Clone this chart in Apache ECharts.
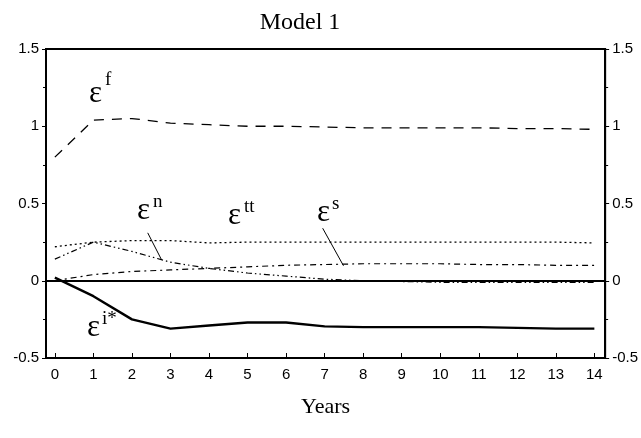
<!DOCTYPE html>
<html><head><meta charset="utf-8">
<script src="https://cdn.jsdelivr.net/npm/echarts@6/dist/echarts.min.js"></script>
<style>html,body{margin:0;padding:0;background:#fff}#c{width:641px;height:438px}</style>
</head><body><div id="c"></div>
<script>
const years = [0,1,2,3,4,5,6,7,8,9,10,11,12,13,14];
const epsF  = [0.80,1.04,1.05,1.02,1.01,1.00,1.00,0.995,0.99,0.99,0.99,0.99,0.985,0.985,0.98];
const epsTT = [0.22,0.25,0.26,0.26,0.245,0.25,0.25,0.25,0.25,0.25,0.25,0.25,0.25,0.25,0.245];
const epsN  = [0.14,0.25,0.19,0.12,0.08,0.05,0.03,0.01,0.0,-0.005,-0.01,-0.01,-0.01,-0.01,-0.01];
const epsS  = [0.0,0.04,0.06,0.07,0.08,0.09,0.10,0.105,0.11,0.11,0.11,0.105,0.105,0.10,0.10];
const epsI  = [0.02,-0.10,-0.25,-0.31,-0.29,-0.27,-0.27,-0.295,-0.30,-0.30,-0.30,-0.30,-0.305,-0.31,-0.31];
const yTicks = [-0.5,0,0.5,1,1.5];

const pairs = a => years.map((x,i)=>[x,a[i]]);
const chart = echarts.init(document.getElementById('c'));
const sans = 'Liberation Sans';
const serif = 'Liberation Serif';
const yAxisBase = {
  type:'value', min:-0.5, max:1.5, interval:0.5,
  axisLine:{show:true,onZero:false,lineStyle:{color:'#000',width:2}},
  axisTick:{show:true,inside:false,length:4,lineStyle:{color:'#000',width:1}},
  minorTick:{show:true,splitNumber:2,length:3,lineStyle:{color:'#000'}},
  splitLine:{show:false},
  axisLabel:{color:'#000',fontFamily:sans,fontSize:15,margin:7,
    formatter:v=>yTicks.includes(+v.toFixed(2))?String(+v.toFixed(2)):''}
};
const line = (name,data,opt)=>Object.assign({
  type:'line',name,data:pairs(data),symbol:'none',silent:true,
  lineStyle:{color:'#000',width:1.2}
},opt);
const eps = '31px "Liberation Serif"';
const sup = '19px "Liberation Serif"';
chart.setOption({
  animation:false,
  grid:{left:46,right:35,top:49,bottom:80,show:true,borderColor:'#000',borderWidth:2},
  title:{text:'Model 1',left:295,top:6,textAlign:'center',
    textStyle:{fontFamily:serif,fontWeight:'normal',fontSize:24,color:'#000'}},
  xAxis:{type:'value',min:-0.23,max:14.28,name:'Years',nameLocation:'middle',nameGap:38,
    nameTextStyle:{fontFamily:serif,fontSize:22,color:'#000'},
    axisLine:{show:true,onZero:false,lineStyle:{color:'#000',width:2}},
    axisTick:{show:true,inside:true,length:5,customValues:years,lineStyle:{color:'#000'}},
    axisLabel:{color:'#000',fontFamily:sans,fontSize:15,margin:9,customValues:years},
    splitLine:{show:false}},
  yAxis:[Object.assign({position:'left'},yAxisBase),
         Object.assign({position:'right'},yAxisBase)],
  series:[
    line('εf',epsF,{lineStyle:{color:'#000',width:1.3,type:[10,8]}}),
    line('εtt',epsTT,{lineStyle:{color:'#000',width:1.3,type:[2,3]}}),
    line('εn',epsN,{lineStyle:{color:'#000',width:1.2,type:[6,3,1.5,3,1.5,3]},
      markLine:{silent:true,symbol:'none',label:{show:false},lineStyle:{color:'#000',width:1,type:'solid'},
        data:[[{coord:[2.41,0.31]},{coord:[2.77,0.135]}]]}}),
    line('εs',epsS,{lineStyle:{color:'#000',width:1.2,type:[6,4,2,4]},
      markLine:{silent:true,symbol:'none',label:{show:false},lineStyle:{color:'#000',width:1,type:'solid'},
        data:[[{coord:[6.95,0.34]},{coord:[7.49,0.097]}]]}}),
    line('εi*',epsI,{lineStyle:{color:'#000',width:2.4},
      markLine:{silent:true,symbol:'none',label:{show:false},lineStyle:{color:'#000',width:1.8,type:'solid'},
        data:[{yAxis:0}]}})
  ],
  graphic:[
    {type:'text',left:89,top:78,style:{text:'ε',font:eps,fill:'#000'}},
    {type:'text',left:105,top:71,style:{text:'f',font:sup,fill:'#000'}},
    {type:'text',left:137,top:195,style:{text:'ε',font:eps,fill:'#000'}},
    {type:'text',left:153,top:193,style:{text:'n',font:sup,fill:'#000'}},
    {type:'text',left:228,top:200,style:{text:'ε',font:eps,fill:'#000'}},
    {type:'text',left:244,top:198,style:{text:'tt',font:sup,fill:'#000'}},
    {type:'text',left:317,top:197,style:{text:'ε',font:eps,fill:'#000'}},
    {type:'text',left:332,top:195,style:{text:'s',font:sup,fill:'#000'}},
    {type:'text',left:87,top:312,style:{text:'ε',font:eps,fill:'#000'}},
    {type:'text',left:102,top:310,style:{text:'i*',font:sup,fill:'#000'}}
  ]
});
</script></body></html>
